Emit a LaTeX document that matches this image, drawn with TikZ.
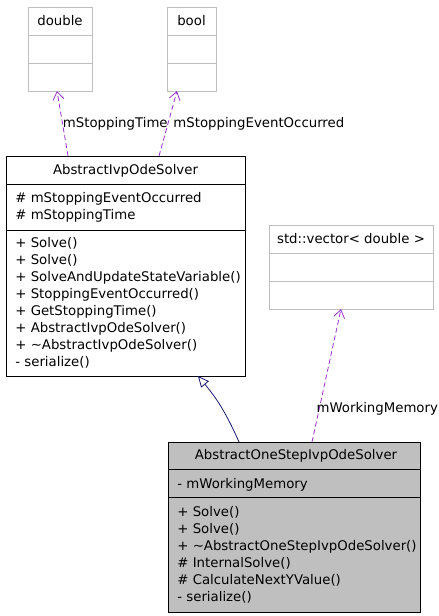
\documentclass[tikz,border=0pt]{standalone}
\usepackage{fontspec}
\setmainfont{DejaVu Sans}
\usetikzlibrary{arrows.meta}
\definecolor{boxgray}{HTML}{BFBFBF}
\definecolor{usecol}{HTML}{9A32CD}
\definecolor{inhcol}{HTML}{191970}
\tikzset{
	classbox/.style={draw,anchor=north west,inner sep=0pt,outer sep=0pt},
	member/.style={anchor=base west,inner sep=0pt},
	uses/.style={usecol,dash pattern=on 5pt off 3pt,-{Straight Barb[length=8pt,width=11pt]}},
	inherits/.style={inhcol,-{Triangle[open,length=11pt,width=10pt]}},
	edgelabel/.style={anchor=west,inner sep=0pt,text=black}
}
\begin{document}
\begin{tikzpicture}[x=1pt,y=-1pt,line width=0.8pt,font=\fontsize{13.3}{17}\selectfont]
	\useasboundingbox (0,0) rectangle (439,616);
	% member types
	\foreach \n/\px/\py/\w/\t in {dbl/28/7/64/double,bool/167/7/49/bool,vec/269/225/164/std::vector< double >}{
		\node at(\px,\py)[classbox,draw=boxgray,minimum width=\w pt,minimum height=84pt](\n){};
		\node at([yshift=-18pt]\n.north)[anchor=base]{\t};
		\foreach \d in {28,56}
			\draw[boxgray] ([yshift=-\d pt]\n.north west) -- ([yshift=-\d pt]\n.north east);
	}
	% base class
	\node at(6,156)[classbox,minimum width=239pt,minimum height=220pt](base){};
	\node at([yshift=-18pt]base.north)[anchor=base]{AbstractIvpOdeSolver};
	\foreach \d in {28,74}
		\draw ([yshift=-\d pt]base.north west) -- ([yshift=-\d pt]base.north east);
	\foreach \t[count=\i from 0] in {\# mStoppingEventOccurred,\# mStoppingTime}
		\node at(base.north west)[member,shift={(9,46+17*\i)}]{\t};
	\foreach \t[count=\i from 0] in {
			+ Solve(),
			+ Solve(),
			+ SolveAndUpdateStateVariable(),
			+ StoppingEventOccurred(),
			+ GetStoppingTime(),
			+ AbstractIvpOdeSolver(),
			+ \textasciitilde AbstractIvpOdeSolver(),
			- serialize()
		}
		\node at(base.north west)[member,shift={(9,91+17*\i)}]{\t};
	% derived class
	\node at(168,442)[classbox,fill=boxgray,minimum width=252pt,minimum height=170pt](child){};
	\node at([xshift=2pt,yshift=-17pt]child.north)[anchor=base]{AbstractOneStepIvpOdeSolver};
	\foreach \d in {27,55}
		\draw ([yshift=-\d pt]child.north west) -- ([yshift=-\d pt]child.north east);
	\node at(child.north west)[member,shift={(9,46)}]{- mWorkingMemory};
	\foreach \t[count=\i from 0] in {
			+ Solve(),
			+ Solve(),
			+ \textasciitilde AbstractOneStepIvpOdeSolver(),
			\# InternalSolve(),
			\# CalculateNextYValue(),
			- serialize()
		}
		\node at(child.north west)[member,shift={(9,74+17*\i)}]{\t};
	% relations
	\draw[inherits] ([xshift=71pt]child.north west) to[bend right=8] ([xshift=72.5pt]base.south);
	\draw[uses] ([xshift=144pt]child.north west) -- node[pos=.25,edgelabel,xshift=-3pt]{mWorkingMemory} ([xshift=-10pt]vec.south);
	\draw[uses] ([xshift=62pt]base.north west) -- node[pos=.5,edgelabel]{mStoppingTime} ([xshift=-3pt]dbl.south);
	\draw[uses] ([xshift=153pt]base.north west) -- node[pos=.5,edgelabel,xshift=5pt]{mStoppingEventOccurred} ([xshift=-14.5pt]bool.south);
\end{tikzpicture}
\end{document}
